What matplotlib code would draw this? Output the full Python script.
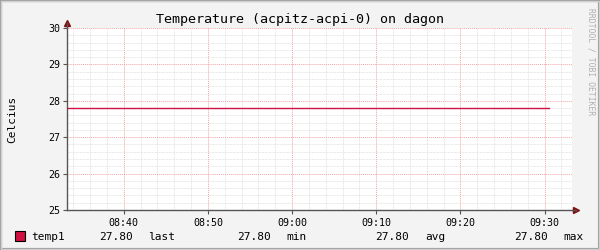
#temperature.py
#rrdtool style temperature graph
import matplotlib
matplotlib.use("Agg")
import matplotlib.pyplot as plt
from matplotlib.patches import Rectangle
from matplotlib.ticker import MultipleLocator, FuncFormatter

#sample times (minutes after 08:00) and readings
sample_minutes = [33.25, 35, 40, 45, 50, 55, 60, 65, 70, 75, 80, 85, 90, 90.5]
temp1 = [27.8, 27.8, 27.8, 27.8, 27.8, 27.8, 27.8, 27.8, 27.8, 27.8, 27.8, 27.8, 27.8, 27.8]

#legend values
legend_values = ["27.80", "27.80", "27.80", "27.80"]
legend_names = ["last", "min", "avg", "max"]

title = "Temperature (acpitz-acpi-0) on dagon"
x_start, x_end = 33.25, 93.25
y_min, y_max = 25, 30

mono = "DejaVu Sans Mono"

fig = plt.figure(figsize=(6, 2.5), dpi=100)
fig.patch.set_facecolor("#f3f3f3")

#border shading like rrdtool
fig.add_artist(Rectangle((0, 0), 1, 1, transform=fig.transFigure, fill=False,
                         edgecolor="#9b9b9b", linewidth=3))
fig.add_artist(Rectangle((0.002, 0.004), 0.996, 0.992, transform=fig.transFigure,
                         fill=False, edgecolor="#cfcfcf", linewidth=1))

ax = fig.add_axes([67 / 600, 40 / 250, 505 / 600, 182 / 250])
ax.set_facecolor("white")
ax.plot(sample_minutes, temp1, color="#d01040", linewidth=1.0, zorder=5)

ax.set_xlim(x_start, x_end)
ax.set_ylim(y_min, y_max)

#grids
ax.xaxis.set_major_locator(MultipleLocator(10))
ax.xaxis.set_minor_locator(MultipleLocator(2))
ax.yaxis.set_major_locator(MultipleLocator(1))
ax.yaxis.set_minor_locator(MultipleLocator(0.2))
ax.grid(which="minor", color="#d4d4d4", linestyle=(0, (1, 1)), linewidth=0.5)
ax.grid(which="major", color="#f4a4a4", linestyle=(0, (1, 1)), linewidth=0.7)
ax.set_axisbelow(True)

def fmt_time(v, pos):
    h = 8 + int(v) // 60
    m = int(v) % 60
    return "%02d:%02d" % (h, m)

ax.xaxis.set_major_formatter(FuncFormatter(fmt_time))
ax.yaxis.set_major_formatter(FuncFormatter(lambda v, p: "%d" % v))

for s in ["top", "right"]:
    ax.spines[s].set_visible(False)
for s in ["left", "bottom"]:
    ax.spines[s].set_color("#555555")
    ax.spines[s].set_linewidth(1.0)

ax.tick_params(which="major", direction="out", length=3, width=0.8, color="#555555",
               labelsize=7.2, pad=2)
ax.tick_params(which="minor", length=0)
for lab in ax.get_xticklabels() + ax.get_yticklabels():
    lab.set_family(mono)
ax.tick_params(axis="x", pad=3)

#axis arrows
ax.plot([1.0 + 4 / 505], [0], marker=">", markersize=4, color="#7f1010",
        transform=ax.transAxes, clip_on=False)
ax.plot([0], [1.0 + 5 / 182], marker="^", markersize=4, color="#7f1010",
        transform=ax.transAxes, clip_on=False)
ax.plot([1.0, 1.0 + 4 / 505], [0, 0], color="#555555", linewidth=1.0,
        transform=ax.transAxes, clip_on=False)
ax.plot([0, 0], [1.0, 1.0 + 5 / 182], color="#555555", linewidth=1.0,
        transform=ax.transAxes, clip_on=False)

#texts
fig.text(300 / 600, 1 - 19 / 250, title, family=mono, fontsize=9.6,
         ha="center", va="center")
fig.text(12 / 600, 1 - 119 / 250, "Celcius", family=mono, fontsize=8,
         rotation=90, ha="center", va="center")
fig.text(591 / 600, 1 - 62 / 250, "RRDTOOL / TOBI OETIKER", family=mono,
         fontsize=5.8, color="#b0b0b0", rotation=270, ha="center", va="center")

#legend line
fig.add_artist(Rectangle((15 / 600, 1 - 241 / 250), 10 / 600, 10 / 250,
                         transform=fig.transFigure, facecolor="#d01040",
                         edgecolor="black", linewidth=0.8))
ly = 1 - 237 / 250
fig.text(31 / 600, ly, "temp1", family=mono, fontsize=8, va="center")
value_x = [99, 237, 375, 514]
name_x = [148, 286, 425, 563]
for vx, nx, v, n in zip(value_x, name_x, legend_values, legend_names):
    fig.text(vx / 600, ly, v, family=mono, fontsize=8, va="center")
    fig.text(nx / 600, ly, n, family=mono, fontsize=8, va="center")

fig.savefig("out.png", dpi=100, facecolor=fig.get_facecolor())
